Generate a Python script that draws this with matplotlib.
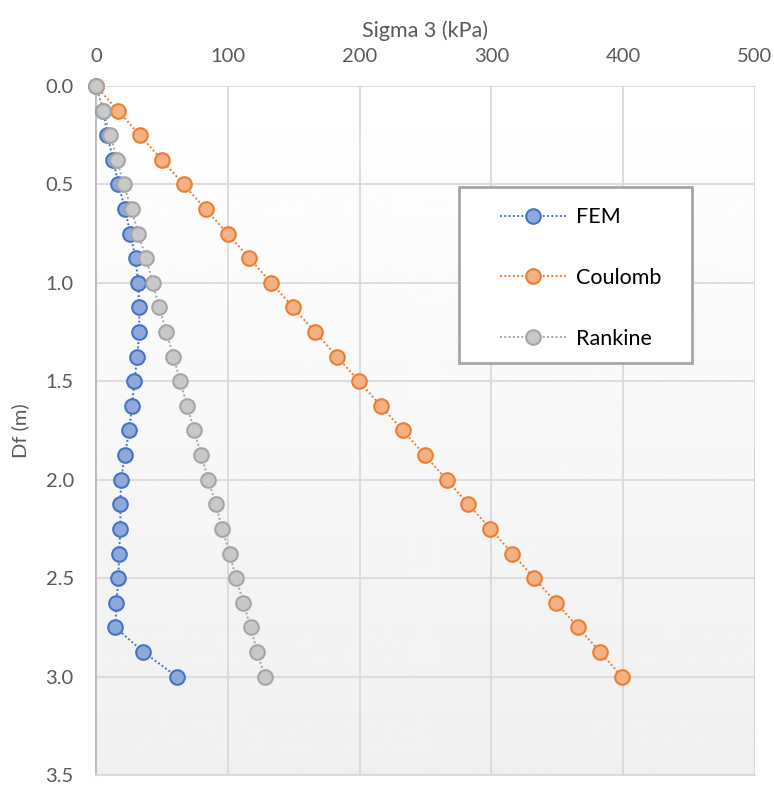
import matplotlib
matplotlib.use("Agg")
import matplotlib.pyplot as plt
from matplotlib.patches import Rectangle
import numpy as np

depth = [0.0, 0.125, 0.25, 0.375, 0.5, 0.625, 0.75, 0.875, 1.0, 1.125, 1.25, 1.375,
         1.5, 1.625, 1.75, 1.875, 2.0, 2.125, 2.25, 2.375, 2.5, 2.625, 2.75, 2.875, 3.0]
fem = [0, 5.6, 8.6, 13, 17, 22, 26, 30, 32, 32.8, 32.8, 31.3, 29.2, 27.2, 25.2,
       21.9, 19, 18.5, 18.5, 17.5, 17, 15.5, 14.7, 35.9, 61.3]
coulomb = [0, 16.6, 33.2, 49.9, 66.5, 83.1, 99.8, 116.4, 133, 149.6, 166.3, 182.9,
           199.5, 216.1, 232.8, 249.4, 266, 282.6, 299.3, 315.9, 332.5, 349.1, 365.8,
           382.4, 399]
rankine = [0, 5.6, 11, 16, 21, 27, 32, 38, 43, 48, 53.4, 58.8, 63.9, 69.2, 74.5,
           79.9, 85.2, 90.8, 95.9, 101.3, 106.3, 111.9, 117.3, 122.4, 127.9]

series_names = ["FEM", "Coulomb", "Rankine"]
x_ticks = [0, 100, 200, 300, 400, 500]
y_ticks = [0.0, 0.5, 1.0, 1.5, 2.0, 2.5, 3.0, 3.5]

plt.rcParams['font.family'] = ['Lato', 'DejaVu Sans']

fig = plt.figure(figsize=(7.74, 7.85), dpi=100)
ax = fig.add_axes([96/774, 1-775/785, (755-96)/774, (775-86)/785])

# background gradient
grad = np.linspace(1.0, 0.94, 256).reshape(-1, 1)
ax.imshow(grad, extent=[0, 1, 0, 1], transform=ax.transAxes, cmap='gray',
          vmin=0, vmax=1, aspect='auto', zorder=0)

styles = [
    dict(color='#4472c4', mfc='#8eaadb', mec='#4472c4'),
    dict(color='#ed7d31', mfc='#f4b183', mec='#ed7d31'),
    dict(color='#a5a5a5', mfc='#c9c9c9', mec='#a5a5a5'),
]
for name, vals, st in zip(series_names, [fem, coulomb, rankine], styles):
    ax.plot(vals, depth, linestyle=(0, (1, 1.2)), linewidth=1.4, color=st['color'],
            marker='o', markersize=10.5, markerfacecolor=st['mfc'],
            markeredgecolor=st['mec'], markeredgewidth=1.5, label=name, zorder=3,
            clip_on=False)

ax.set_xlim(0, 500)
ax.set_ylim(3.5, 0)
ax.set_xticks(x_ticks)
ax.set_yticks(y_ticks)
ax.set_yticklabels([f"{v:.1f}" for v in y_ticks])
ax.xaxis.tick_top()
ax.xaxis.set_label_position('top')
ax.tick_params(axis='both', length=0, labelsize=14.5, colors='#595959')
ax.tick_params(axis='x', pad=15)
ax.tick_params(axis='y', pad=16)
ax.grid(True, color='#d9d9d9', linewidth=1.3, zorder=1)
ax.set_axisbelow(True)
for s in ['top', 'right']:
    ax.spines[s].set_visible(False)
ax.spines['left'].set_color('#bfbfbf')
ax.spines['left'].set_linewidth(1.5)
ax.spines['bottom'].set_color('#d9d9d9')
ax.spines['bottom'].set_linewidth(1.3)

ax.set_xlabel("Sigma 3 (kPa)", fontsize=15.5, color='#595959', labelpad=8)
ax.set_ylabel("Df (m)", fontsize=14.5, color='#595959', labelpad=12)

# legend frame
ax.add_patch(Rectangle(((459-96)/659, (775-363)/689), (692-459)/659, (363-187)/689,
                       transform=ax.transAxes, facecolor='white', edgecolor='#a6a6a6',
                       linewidth=2, zorder=5))
leg = ax.legend(loc='center left', bbox_to_anchor=((500-96)/659, (775-278)/689),
                fontsize=15.5, frameon=False, borderpad=0,
                labelspacing=1.9, handlelength=3.05, handletextpad=0.47,
                borderaxespad=0)
leg.set_zorder(6)

fig.savefig("out.png", dpi=100)
